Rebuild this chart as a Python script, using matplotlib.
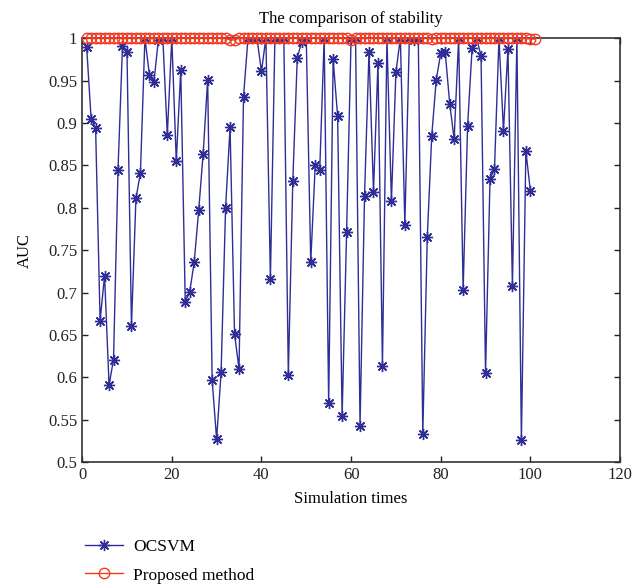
import matplotlib
matplotlib.use("Agg")
import matplotlib.pyplot as plt

# AUC par simulation
ocsvm_x = list(range(1, 101))
ocsvm_auc = [
    0.990, 0.905, 0.894, 0.667, 0.720, 0.591, 0.621, 0.845, 0.991, 0.984,
    0.661, 0.811, 0.841, 1.000, 0.957, 0.948, 0.998, 1.000, 0.886, 1.000,
    0.855, 0.963, 0.689, 0.701, 0.736, 0.797, 0.864, 0.951, 0.597, 0.527,
    0.606, 0.800, 0.895, 0.651, 0.610, 0.931, 1.000, 1.000, 1.000, 0.961,
    1.000, 0.716, 1.000, 1.000, 1.000, 0.603, 0.832, 0.977, 0.996, 1.000,
    0.736, 0.850, 0.844, 1.000, 0.570, 0.975, 0.908, 0.554, 0.771, 1.000,
    1.000, 0.543, 0.814, 0.984, 0.819, 0.971, 0.614, 1.000, 0.808, 0.960,
    1.000, 0.780, 1.000, 0.998, 1.000, 0.533, 0.765, 0.885, 0.951, 0.982,
    0.984, 0.923, 0.881, 1.000, 0.703, 0.897, 0.988, 1.000, 0.979, 0.605,
    0.834, 0.846, 1.000, 0.891, 0.987, 0.708, 1.000, 0.526, 0.867, 0.820,
]

proposed_x = list(range(1, 102))
proposed_auc = [1.000] * 101
for i, v in [(33, 0.998), (34, 0.998), (60, 0.998),
             (78, 0.999), (100, 0.999), (101, 0.999)]:
    proposed_auc[i - 1] = v

x_ticks = [0, 20, 40, 60, 80, 100, 120]
y_ticks = [0.5, 0.55, 0.6, 0.65, 0.7, 0.75, 0.8, 0.85, 0.9, 0.95, 1]
y_labels = ["0.5", "0.55", "0.6", "0.65", "0.7", "0.75", "0.8", "0.85", "0.9", "0.95", "1"]

BLEU = "#2e2e96"
ROUGE = "#f23a22"

plt.rcParams["font.family"] = ["Liberation Serif", "DejaVu Serif"]
plt.rcParams["font.size"] = 12

fig = plt.figure(figsize=(6.32, 5.88), dpi=100)
ax = fig.add_axes([0.130, 0.214, 0.851, 0.721])

l1, = ax.plot(ocsvm_x, ocsvm_auc, color=BLEU, lw=1.0, marker=(8, 2, 0),
              markersize=8, markeredgewidth=1.0, label="OCSVM", zorder=2)
l2, = ax.plot(proposed_x, proposed_auc, color=ROUGE, lw=1.0, marker="o",
              markersize=7.5, markerfacecolor="none", markeredgewidth=1.0,
              label="Proposed method", zorder=3, clip_on=False)

ax.set_xlim(0, 120)
ax.set_ylim(0.5, 1.0)
ax.set_xticks(x_ticks)
ax.set_yticks(y_ticks)
ax.set_yticklabels(y_labels)
ax.tick_params(direction="in", length=4, width=1, top=True, right=True,
               labelsize=12, colors="#222222")
for s in ax.spines.values():
    s.set_color("#333333")
    s.set_linewidth(1.2)

ax.set_title("The comparison of stability", fontsize=12, pad=11)
ax.set_xlabel("Simulation times", fontsize=12, labelpad=6)
ax.set_ylabel("AUC", fontsize=12, labelpad=11)

fig.legend(handles=[l1, l2], loc="upper left", bbox_to_anchor=(0.123, 0.095),
           frameon=False, fontsize=12.5, handlelength=2.2, labelspacing=0.7,
           borderaxespad=0, handletextpad=0.6)

fig.savefig("out.png", dpi=100)
